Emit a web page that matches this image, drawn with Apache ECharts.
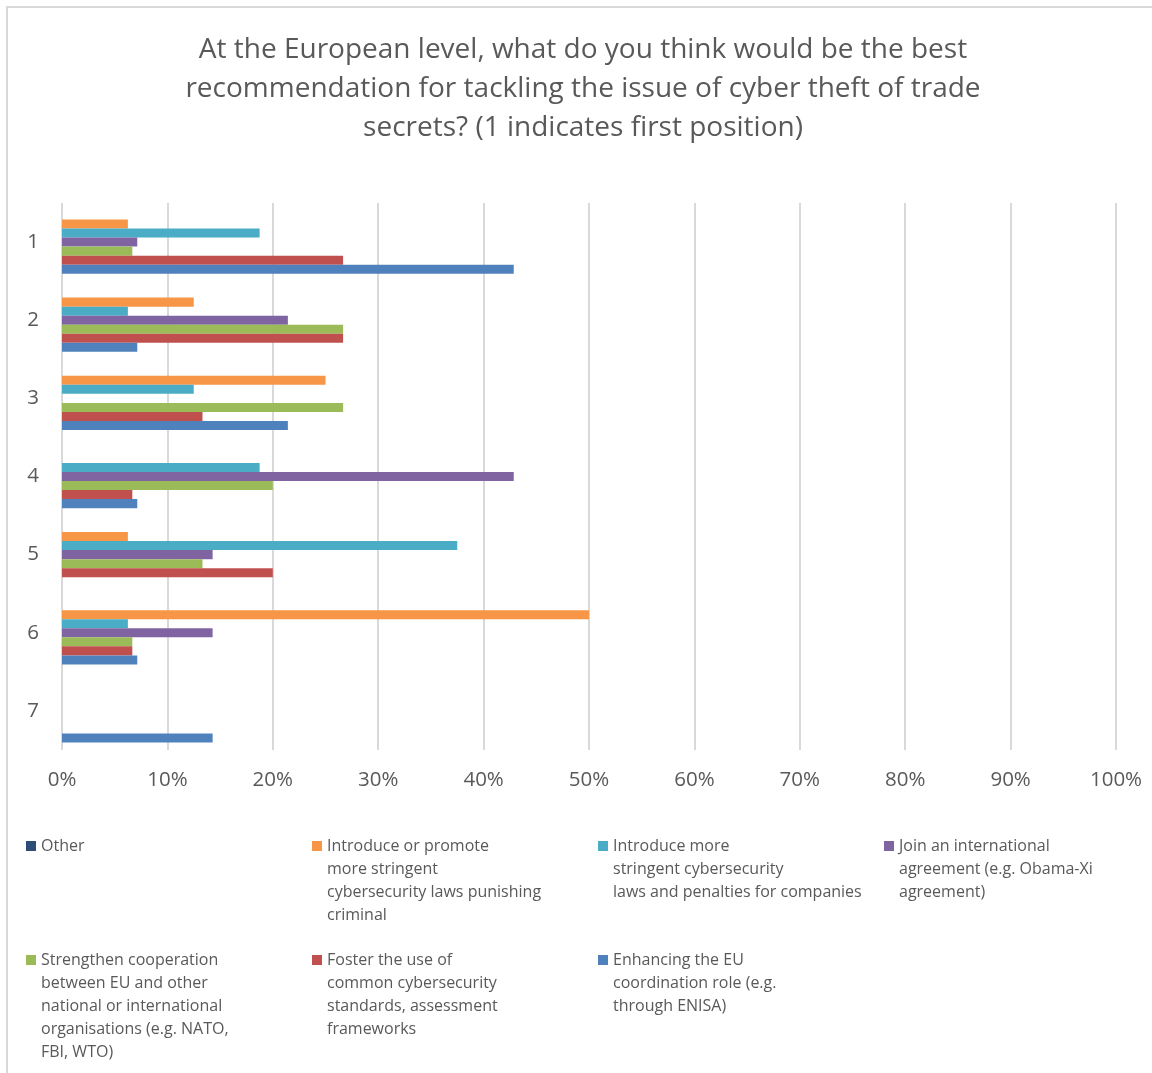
<!DOCTYPE html>
<html>
<head>
<meta charset="utf-8">
<script src="https://cdn.jsdelivr.net/npm/echarts@6/dist/echarts.min.js"></script>
<style>
  html, body { margin: 0; padding: 0; background: #fff; }
  #chart { width: 1152px; height: 1073px; }
</style>
</head>
<body>
<div id="chart"></div>
<script>
// ranks (1 = first position)
var ranks = ['1', '2', '3', '4', '5', '6', '7'];

var seriesNames = [
    'Other',
    'Introduce or promote more stringent cybersecurity laws punishing criminal',
    'Introduce more stringent cybersecurity laws and penalties for companies',
    'Join an international agreement (e.g. Obama-Xi agreement)',
    'Strengthen cooperation between EU and other national or international organisations (e.g. NATO, FBI, WTO)',
    'Foster the use of common cybersecurity standards, assessment frameworks',
    'Enhancing the EU coordination role (e.g. through ENISA)'
];

// legend text as wrapped in the original
var legendLines = [
    ['Other'],
    ['Introduce or promote', 'more stringent', 'cybersecurity laws punishing', 'criminal'],
    ['Introduce more', 'stringent cybersecurity', 'laws and penalties for companies'],
    ['Join an international', 'agreement (e.g. Obama-Xi', 'agreement)'],
    ['Strengthen cooperation', 'between EU and other', 'national or international', 'organisations (e.g. NATO,', 'FBI, WTO)'],
    ['Foster the use of', 'common cybersecurity', 'standards, assessment', 'frameworks'],
    ['Enhancing the EU', 'coordination role (e.g.', 'through ENISA)']
];

var colors = ['#2C4D75', '#F79646', '#4BACC6', '#8064A2', '#9BBB59', '#C0504D', '#4F81BD'];

// share of respondents (%) per rank
var otherVals       = [0, 0, 0, 0, 0, 0, 0];
var lawsCriminal    = [6.25, 12.5, 25, 0, 6.25, 50, 0];
var lawsCompanies   = [18.75, 6.25, 12.5, 18.75, 37.5, 6.25, 0];
var intlAgreement   = [7.14, 21.43, 0, 42.86, 14.29, 14.29, 0];
var cooperation     = [6.67, 26.67, 26.67, 20, 13.33, 6.67, 0];
var standards       = [26.67, 26.67, 13.33, 6.67, 20, 6.67, 0];
var euCoordination  = [42.86, 7.14, 21.43, 7.14, 0, 7.14, 14.29];

var allValues = [otherVals, lawsCriminal, lawsCompanies, intlAgreement, cooperation, standards, euCoordination];

var chart = echarts.init(document.getElementById('chart'));

var font = 'Open Sans';
var textColor = '#595959';
var lineH = 23;

// legend laid out in 4 columns, 2 rows
var legendCols = [26, 312, 598, 884];
var legendRows = [846, 960];

var legends = seriesNames.map(function (name, i) {
    var n = legendLines[i].length;
    var centerY = legendRows[Math.floor(i / 4)];
    // blank lines above keep the marker level with the first line of text
    var pad = new Array(n).join('\n');
    return {
        data: [name],
        left: legendCols[i % 4],
        top: centerY - (2 * n - 1) * lineH / 2,
        padding: 0,
        itemWidth: 10,
        itemHeight: 10,
        icon: 'rect',
        formatter: function () { return pad + legendLines[i].join('\n'); },
        textStyle: {
            fontFamily: font,
            fontSize: 16,
            color: textColor,
            lineHeight: lineH
        }
    };
});

var series = seriesNames.map(function (name, i) {
    return {
        name: name,
        type: 'bar',
        data: allValues[i],
        barGap: '0%',
        barCategoryGap: '19%',
        itemStyle: { color: colors[i] }
    };
});

var option = {
    backgroundColor: '#ffffff',
    color: colors,
    animation: false,
    title: {
        text: 'At the European level, what do you think would be the best\nrecommendation for tackling the issue of cyber theft of trade\nsecrets? (1 indicates first position)',
        left: 583,
        top: 31,
        padding: 0,
        textAlign: 'center',
        textStyle: {
            fontFamily: font,
            fontSize: 28,
            fontWeight: 'normal',
            color: textColor,
            lineHeight: 39
        }
    },
    legend: legends,
    grid: {
        left: 62,
        right: 36,
        top: 203,
        bottom: 323
    },
    xAxis: {
        type: 'value',
        min: 0,
        max: 100,
        interval: 10,
        axisLine: { show: false },
        axisTick: { show: false },
        axisLabel: {
            formatter: '{value}%',
            fontFamily: font,
            fontSize: 20.5,
            color: textColor,
            margin: 20
        },
        splitLine: { show: true, lineStyle: { color: '#d9d9d9', width: 2 } }
    },
    yAxis: {
        type: 'category',
        inverse: true,
        data: ranks,
        axisLine: { show: false },
        axisTick: { show: false },
        axisLabel: {
            fontFamily: font,
            fontSize: 20.5,
            color: textColor,
            margin: 23
        }
    },
    graphic: [{
        type: 'rect',
        shape: { x: 7, y: 7, width: 1200, height: 1200 },
        style: { fill: null, stroke: '#d9d9d9', lineWidth: 2 },
        silent: true
    }],
    series: series
};

chart.setOption(option);

window.addEventListener('resize', function () {
    chart.resize();
});
</script>
</body>
</html>
